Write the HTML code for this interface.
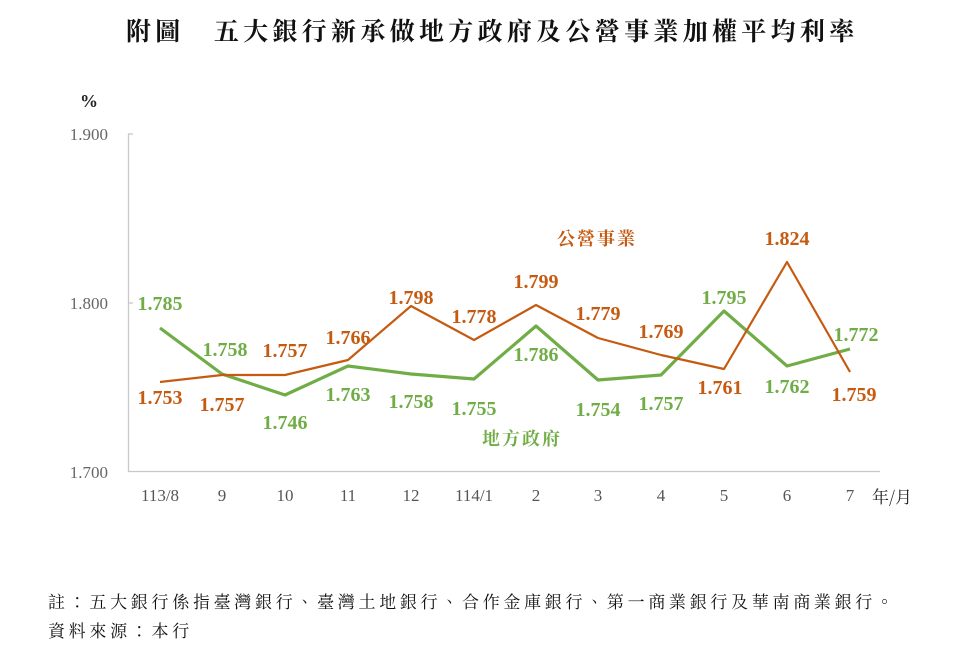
<!DOCTYPE html>
<html><head><meta charset="utf-8"><style>
body{margin:0;background:#fff;width:960px;height:662px;overflow:hidden}
</style></head><body>
<svg width="960" height="662" xmlns="http://www.w3.org/2000/svg" font-family="Liberation Serif, Noto Serif CJK SC, serif">
<text x="126" y="40" font-size="25" font-weight="bold" letter-spacing="4.3" font-family="Noto Serif CJK TC, Noto Serif CJK SC, serif" fill="#111">附圖　五大銀行新承做地方政府及公營事業加權平均利率</text>
<text x="80" y="107" font-size="18" font-weight="bold" fill="#222">%</text>
<g font-size="17" fill="#666" text-anchor="end">
<text x="108" y="140">1.900</text><text x="108" y="309">1.800</text><text x="108" y="478">1.700</text>
</g>
<g stroke="#c8c8c8" stroke-width="1.3" fill="none">
<path d="M128.5 134V471.5H880"/>
<path d="M128 134h5M128 303h5"/>
</g>
<g font-size="17" fill="#555" text-anchor="middle">
<text x="160" y="501">113/8</text><text x="222" y="501">9</text><text x="285" y="501">10</text><text x="348" y="501">11</text><text x="411" y="501">12</text><text x="474" y="501">114/1</text><text x="536" y="501">2</text><text x="598" y="501">3</text><text x="661" y="501">4</text><text x="724" y="501">5</text><text x="787" y="501">6</text><text x="850" y="501">7</text>
</g>
<text x="872" y="503" font-size="17" fill="#222" font-family="Noto Serif CJK TC, serif">年/月</text>
<polyline fill="none" stroke="#70ad47" stroke-width="3.2" stroke-linejoin="round" points="160,328 222,374 285,395 348,366 411,374 474,379 536,326 598,380 661,375 724,311 787,366 850,349"/>
<polyline fill="none" stroke="#c55a11" stroke-width="2.2" stroke-linejoin="round" points="160,382 222,375 285,375 348,360 411,306 474,340 536,305 598,338 661,355 724,369 787,262 850,372"/>
<g font-size="20" font-weight="bold" fill="#c55a11" text-anchor="middle">
<text x="160" y="404">1.753</text><text x="222" y="411">1.757</text><text x="285" y="357">1.757</text><text x="348" y="344">1.766</text><text x="411" y="304">1.798</text><text x="474" y="323">1.778</text><text x="536" y="288">1.799</text><text x="598" y="320">1.779</text><text x="661" y="338">1.769</text><text x="720" y="394">1.761</text><text x="787" y="245">1.824</text><text x="854" y="401">1.759</text>
</g>
<g font-size="20" font-weight="bold" fill="#70ad47" text-anchor="middle">
<text x="160" y="310">1.785</text><text x="225" y="356">1.758</text><text x="285" y="429">1.746</text><text x="348" y="401">1.763</text><text x="411" y="408">1.758</text><text x="474" y="415">1.755</text><text x="536" y="361">1.786</text><text x="598" y="416">1.754</text><text x="661" y="410">1.757</text><text x="724" y="304">1.795</text><text x="787" y="393">1.762</text><text x="856" y="341">1.772</text>
</g>
<text x="597" y="245" text-anchor="middle" font-size="18" font-weight="bold" letter-spacing="2" fill="#c55a11" font-family="Noto Serif CJK TC, serif">公營事業</text>
<text x="522" y="445" text-anchor="middle" font-size="18" font-weight="bold" letter-spacing="2" fill="#70ad47" font-family="Noto Serif CJK TC, serif">地方政府</text>
<g font-size="17" fill="#111" letter-spacing="3.7" font-family="Noto Serif CJK TC, serif">
<text x="48" y="608">註：五大銀行係指臺灣銀行、臺灣土地銀行、合作金庫銀行、第一商業銀行及華南商業銀行。</text>
<text x="48" y="637">資料來源：本行</text>
</g>
</svg>
</body></html>
